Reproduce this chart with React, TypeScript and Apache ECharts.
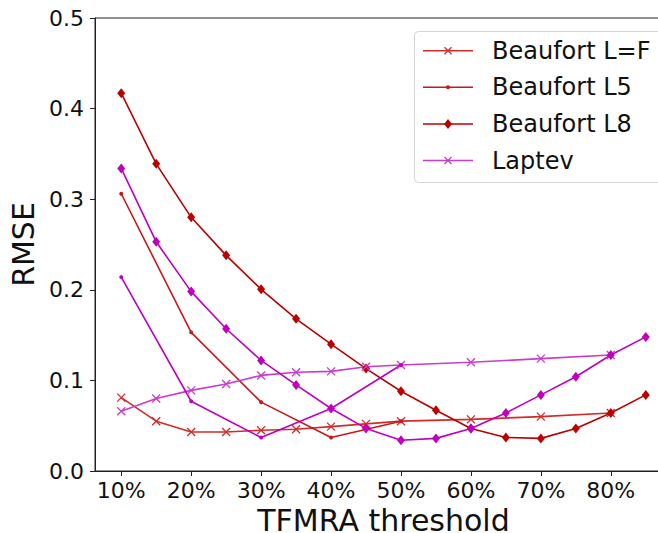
import React, { useEffect, useRef } from "react";
import * as echarts from "echarts";

const xTicks = [10, 20, 30, 40, 50, 60, 70, 80];

const xLF = [10, 15, 20, 25, 30, 35, 40, 45, 50, 60, 70, 80];
const xL5 = [10, 20, 30, 40, 50];
const xL8 = [10, 15, 20, 25, 30, 35, 40, 45, 50, 55, 60, 65, 70, 75, 80, 85];

const beaufortLF = [0.081, 0.055, 0.043, 0.043, 0.045, 0.046, 0.049, 0.052, 0.055, 0.057, 0.060, 0.064];
const beaufortL5 = [0.306, 0.153, 0.076, 0.037, 0.055];
const beaufortL8 = [0.417, 0.339, 0.280, 0.238, 0.2005, 0.168, 0.140, 0.113, 0.088, 0.067, 0.047, 0.037, 0.036, 0.047, 0.064, 0.084];

const laptevLF = [0.066, 0.080, 0.089, 0.096, 0.1055, 0.109, 0.110, 0.115, 0.117, 0.120, 0.124, 0.128];
const laptevL5 = [0.214, 0.077, 0.037, 0.069, 0.117];
const laptevL8 = [0.334, 0.253, 0.198, 0.157, 0.122, 0.095, 0.069, 0.047, 0.034, 0.036, 0.047, 0.064, 0.084, 0.104, 0.128, 0.148];

const legendNames = ["Beaufort L=F", "Beaufort L5", "Beaufort L8", "Laptev"];

const FONT = "DejaVu Sans";
const XSYM = "path://M0 0L10 10M10 0L0 10";

const RED1 = "#d42a2a";
const RED2 = "#c81818";
const RED3 = "#bb0000";
const MAG1 = "#c83ec8";
const MAG2 = "#bf00bf";

function pairs(xs: number[], ys: number[]) {
  return xs.map((x, i) => [x, ys[i]]);
}

function mk(name: string, xs: number[], ys: number[], color: string, kind: "x" | "dot" | "d") {
  const base: any = {
    name,
    type: "line",
    data: pairs(xs, ys),
    lineStyle: { color, width: 1.6 },
    showSymbol: true,
    emphasis: { disabled: true },
  };
  if (kind === "x") {
    base.symbol = XSYM;
    base.symbolSize = 8;
    base.itemStyle = { color: "none", borderColor: color, borderWidth: 1.3 };
  } else if (kind === "dot") {
    base.symbol = "circle";
    base.symbolSize = 4;
    base.itemStyle = { color, borderWidth: 0 };
  } else {
    base.symbol = "diamond";
    base.symbolSize = [8, 10];
    base.itemStyle = { color, borderWidth: 0 };
  }
  return base;
}

function legendGraphic() {
  const kinds: ("x" | "dot" | "d")[] = ["x", "dot", "d", "x"];
  const colors = [RED1, RED2, RED3, MAG1];
  const rowsY = [50.7, 87.3, 124, 160.5];
  const children: any[] = [
    {
      type: "rect",
      shape: { x: 414.5, y: 31.5, width: 270, height: 151, r: 4 },
      style: { fill: "#fff", stroke: "#d4d4d4", lineWidth: 1 },
    },
  ];
  legendNames.forEach((name, i) => {
    const y = rowsY[i];
    const c = colors[i];
    children.push({
      type: "line",
      shape: { x1: 423, y1: y, x2: 473, y2: y },
      style: { stroke: c, lineWidth: 1.6 },
    });
    if (kinds[i] === "x") {
      children.push({ type: "line", shape: { x1: 444.5, y1: y - 3.5, x2: 451.5, y2: y + 3.5 }, style: { stroke: c, lineWidth: 1.3 } });
      children.push({ type: "line", shape: { x1: 444.5, y1: y + 3.5, x2: 451.5, y2: y - 3.5 }, style: { stroke: c, lineWidth: 1.3 } });
    } else if (kinds[i] === "dot") {
      children.push({ type: "circle", shape: { cx: 448, cy: y, r: 2 }, style: { fill: c } });
    } else {
      children.push({
        type: "polygon",
        shape: { points: [[448, y - 5], [452, y], [448, y + 5], [444, y]] },
        style: { fill: c },
      });
    }
    children.push({
      type: "text",
      x: 492,
      y,
      style: {
        text: name,
        fontFamily: FONT,
        fontSize: 24,
        fill: "#111",
        verticalAlign: "middle",
        align: "left",
      },
    });
  });
  return [{ type: "group", children, z: 100 }];
}

export default function App() {
  const ref = useRef<HTMLDivElement>(null);
  useEffect(() => {
    if (!ref.current) return;
    const chart = echarts.init(ref.current, null, { renderer: "svg" });
    chart.setOption({
      animation: false,
      backgroundColor: "#fff",
      textStyle: { fontFamily: FONT },
      grid: {
        left: 95,
        right: -14,
        top: 18,
        bottom: 62,
        show: true,
        borderColor: "#222",
        borderWidth: 1,
        containLabel: false,
        outerBoundsMode: "none",
      },
      xAxis: {
        type: "value",
        min: 6.25,
        max: 88.75,
        name: "TFMRA threshold",
        nameLocation: "middle",
        nameGap: 33,
        nameTextStyle: { fontFamily: FONT, fontSize: 30, lineHeight: 28, color: "#111" },
        axisLine: { show: true, lineStyle: { color: "#222", width: 1 } },
        axisTick: { show: true, customValues: xTicks, length: 5, inside: false, lineStyle: { color: "#222" } },
        axisLabel: {
          customValues: xTicks,
          formatter: (v: number) => `${v}%`,
          fontFamily: FONT,
          fontSize: 22,
          color: "#111",
          margin: 8,
        },
        splitLine: { show: false },
      },
      yAxis: {
        type: "value",
        min: 0,
        max: 0.5,
        interval: 0.1,
        name: "RMSE",
        nameLocation: "middle",
        nameGap: 52,
        nameRotate: 90,
        nameTextStyle: { fontFamily: FONT, fontSize: 30, color: "#111" },
        axisLine: { show: true, lineStyle: { color: "#222", width: 1 } },
        axisTick: { show: true, length: 5, lineStyle: { color: "#222" } },
        axisLabel: {
          formatter: (v: number) => v.toFixed(1),
          fontFamily: FONT,
          fontSize: 22,
          color: "#111",
          margin: 11,
        },
        splitLine: { show: false },
      },
      graphic: legendGraphic(),
      series: [
        mk("Beaufort L=F", xLF, beaufortLF, RED1, "x"),
        mk("Beaufort L5", xL5, beaufortL5, RED2, "dot"),
        mk("Beaufort L8", xL8, beaufortL8, RED3, "d"),
        mk("Laptev", xLF, laptevLF, MAG1, "x"),
        mk("Laptev L5", xL5, laptevL5, MAG2, "dot"),
        mk("Laptev L8", xL8, laptevL8, MAG2, "d"),
      ],
    });
    return () => chart.dispose();
  }, []);
  return (
    <div
      ref={ref}
      style={{ position: "absolute", left: 0, top: 0, width: 658, height: 533 }}
    />
  );
}
